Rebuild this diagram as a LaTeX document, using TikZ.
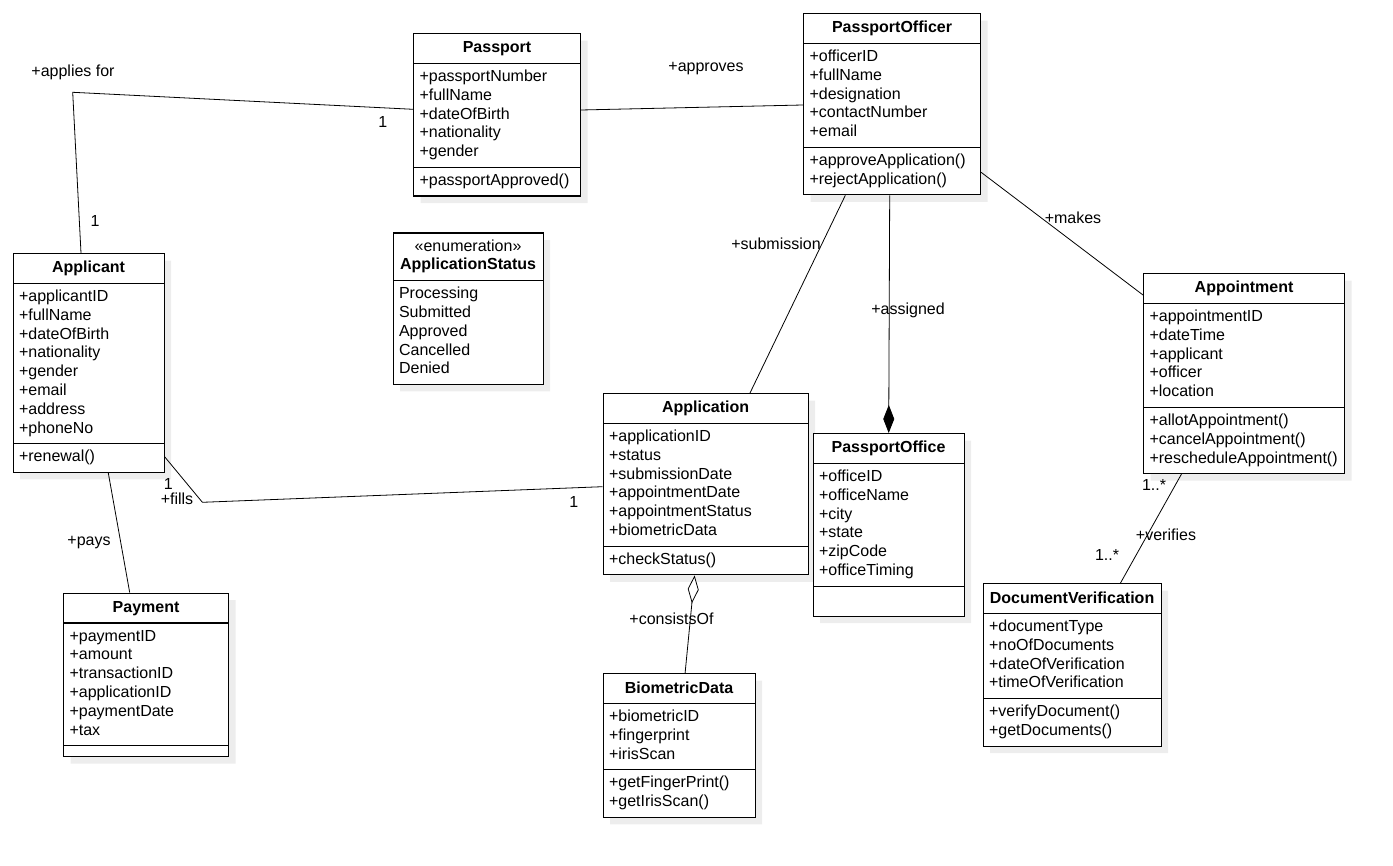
\documentclass[tikz,border=0pt]{standalone}
\usepackage{fontspec}
\setmainfont{Liberation Sans}
\usetikzlibrary{shapes.multipart,shadows,arrows.meta}

\newcommand\umlfont{\fontsize{16pt}{18.8pt}\selectfont}
\newcommand\classtitle[1]{\rule[-5.5pt]{0pt}{20pt}\textbf{#1}}
\newcommand\members[1]{\begin{tabular}{@{}l@{}}#1\end{tabular}}

\tikzset{
  umlclass/.style={rectangle split, rectangle split parts=3,
    rectangle split part align={center,left,left}, draw, line width=1.1pt,
    fill=white, font=\umlfont, inner xsep=6pt, inner ysep=4.4pt,
    minimum width=#1, anchor=north west,
    drop shadow={shadow xshift=7pt, shadow yshift=-7pt, fill=black!7, opacity=1}},
  umlenum/.style={umlclass=#1, rectangle split parts=2,
    rectangle split part align={center,left}},
  assoc/.style={line width=0.8pt},
  lbl/.style={font=\umlfont, inner sep=0pt},
}

\begin{document}
\begin{tikzpicture}[x=1pt, y=-1pt]
\useasboundingbox (0,0) rectangle (1393,866);

% classes
\node[umlclass=167pt] (passport) at (413,33) {\classtitle{Passport}
  \nodepart{second}\members{+passportNumber\\+fullName\\+dateOfBirth\\+nationality\\+gender}
  \nodepart{third}\members{+passportApproved()}};
\node[umlclass=177pt] (officer) at (803,13) {\classtitle{PassportOfficer}
  \nodepart{second}\members{+officerID\\+fullName\\+designation\\+contactNumber\\+email}
  \nodepart{third}\members{+approveApplication()\\+rejectApplication()}};
\node[umlclass=151pt] (applicant) at (12.5,253) {\classtitle{Applicant}
  \nodepart{second}\members{+applicantID\\+fullName\\+dateOfBirth\\+nationality\\+gender\\+email\\+address\\+phoneNo}
  \nodepart{third}\members{+renewal()}};
\node[umlenum=150pt] (appstatus) at (392.5,232.5)
  {\begin{tabular}{@{}c@{}}«enumeration»\\\textbf{ApplicationStatus}\end{tabular}
  \nodepart{second}\members{Processing\\Submitted\\Approved\\Cancelled\\Denied}};
\node[umlclass=201pt] (appointment) at (1143,273) {\classtitle{Appointment}
  \nodepart{second}\members{+appointmentID\\+dateTime\\+applicant\\+officer\\+location}
  \nodepart{third}\members{+allotAppointment()\\+cancelAppointment()\\+rescheduleAppointment()}};
\node[umlclass=205pt] (application) at (602.5,393) {\classtitle{Application}
  \nodepart{second}\members{+applicationID\\+status\\+submissionDate\\+appointmentDate\\+appointmentStatus\\+biometricData}
  \nodepart{third}\members{+checkStatus()}};
\node[umlclass=151pt] (office) at (812.5,433) {\classtitle{PassportOffice}
  \nodepart{second}\members{+officeID\\+officeName\\+city\\+state\\+zipCode\\+officeTiming}
  \nodepart{third}\rule{0pt}{20pt}};
\node[umlclass=165pt] (payment) at (63,592.5) {\classtitle{Payment}
  \nodepart{second}\members{+paymentID\\+amount\\+transactionID\\+applicationID\\+paymentDate\\+tax}
  \nodepart{third}\rule{0pt}{1pt}};
\node[umlclass=152pt] (biometric) at (602.5,673) {\classtitle{BiometricData}
  \nodepart{second}\members{+biometricID\\+fingerprint\\+irisScan}
  \nodepart{third}\members{+getFingerPrint()\\+getIrisScan()}};
\node[umlclass=178pt] (docverify) at (982.5,583) {\classtitle{DocumentVerification}
  \nodepart{second}\members{+documentType\\+noOfDocuments\\+dateOfVerification\\+timeOfVerification}
  \nodepart{third}\members{+verifyDocument()\\+getDocuments()}};

% bends
\coordinate (appliesbend) at (72.7,92.3);
\coordinate (fillsbend) at (202.4,502.3);

% associations
\draw[assoc] ([xshift=68.5pt]applicant.north west) -- (appliesbend)
  -- ([yshift=-76.3pt]passport.north west);
\draw[assoc] ([yshift=-77pt]passport.north east) -- ([yshift=-92pt]officer.north west);
\draw[assoc] ([xshift=42.3pt]officer.south west) -- ([xshift=147.5pt]application.north west);
\draw[assoc, -{Diamond[length=28pt, width=11pt]}] ([xshift=86.7pt]officer.south west)
  -- ([xshift=76.2pt]office.north west);
\draw[assoc] ([yshift=-159.3pt]officer.north east) -- ([yshift=-22pt]appointment.north west);
\draw[assoc] ([yshift=-203.7pt]applicant.north east) -- (fillsbend)
  -- ([yshift=-93.7pt]application.north west);
\draw[assoc] ([xshift=95.8pt]applicant.south west) -- ([xshift=66.7pt]payment.north west);
\draw[assoc, {Diamond[open, fill=white, length=28pt, width=11pt]}-] ([xshift=92.1pt]application.south west)
  -- ([xshift=82.6pt]biometric.north west);
\draw[assoc] ([xshift=38.4pt]appointment.south west) -- ([xshift=138pt]docverify.north west);

% labels
\node[lbl] (appliesfor) at (73,72) {+applies for};
\node[lbl] (appliesone) at (382.7,122) {1};
\node[lbl] (applicantone) at (95,220.7) {1};
\node[lbl] (approves) at (706,69) {+approves};
\node[lbl] (submission) at (776,244) {+submission};
\node[lbl] (assigned) at (908,310.7) {+assigned};
\node[lbl] (makes) at (1073,217.7) {+makes};
\node[lbl] (fills) at (177,499) {+fills};
\node[lbl] (fillsone) at (168.4,484) {1};
\node[lbl] (fillstwo) at (573.7,501.7) {1};
\node[lbl] (pays) at (89,542.3) {+pays};
\node[lbl] (consists) at (671.5,619) {+consistsOf};
\node[lbl] (verifies) at (1166,535) {+verifies};
\node[lbl] (manyone) at (1154,485) {1..*};
\node[lbl] (manytwo) at (1107,555) {1..*};
\end{tikzpicture}
\end{document}
